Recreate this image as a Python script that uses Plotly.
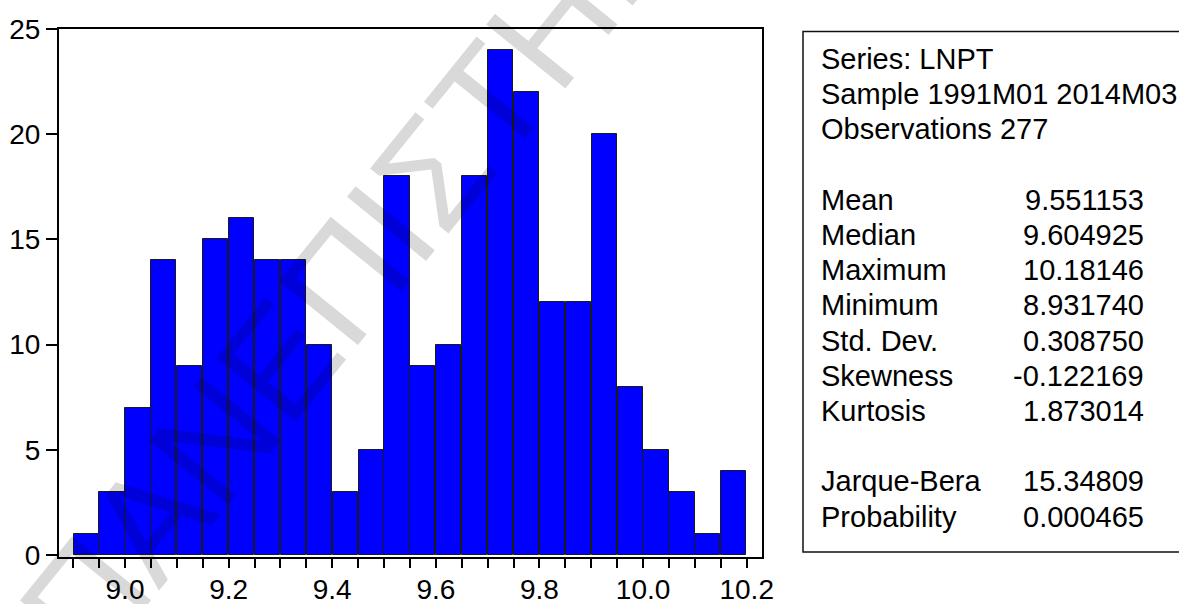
import numpy as np
import plotly.graph_objects as go

# ---- data ----
bin_start = 8.90
bin_width = 0.05
counts = [1, 3, 7, 14, 9, 15, 16, 14, 14, 10, 3, 5, 18, 9, 10, 18, 24, 22, 12, 12, 20, 8, 5, 3, 1, 4]
x_tick_vals = [9.0, 9.2, 9.4, 9.6, 9.8, 10.0, 10.2]
x_tick_text = ["9.0", "9.2", "9.4", "9.6", "9.8", "10.0", "10.2"]
y_tick_vals = [0, 5, 10, 15, 20, 25]

header_lines = ["Series: LNPT", "Sample 1991M01 2014M03", "Observations 277"]
stat_labels = ["Mean", "Median", "Maximum", "Minimum", "Std. Dev.", "Skewness", "Kurtosis"]
stat_values = ["9.551153", "9.604925", "10.18146", "8.931740", "0.308750", "-0.122169", "1.873014"]
test_labels = ["Jarque-Bera", "Probability"]
test_values = ["15.34809", "0.000465"]
watermark = "ΠΑΝΕΠΙΣΤΗΜΙΟ"

# ---- layout geometry (pixels) ----
W, H = 1179, 604
L, R, T, B = 59, 762, 29, 557
pw, ph = R - L, B - T
def px(x):
    return (x - L) / pw
def py(y):
    return (B - y) / ph

FONT = "Liberation Sans, Arial, Helvetica, sans-serif"
centers = bin_start + bin_width * (np.arange(len(counts)) + 0.5)

fig = go.Figure()
fig.add_trace(go.Bar(
    x=centers, y=counts, width=bin_width * 0.97,
    marker=dict(color="#0000FF", line=dict(color="#1a1a1a", width=1)),
    hoverinfo="x+y", showlegend=False,
))

fig.update_layout(
    width=W, height=H,
    margin=dict(l=L, r=W - R, t=T, b=H - B, pad=0),
    paper_bgcolor="white", plot_bgcolor="white",
    font=dict(family=FONT, size=28, color="black"),
    bargap=0,
    xaxis=dict(
        range=[8.8726, 10.2295], showgrid=False, zeroline=False, automargin=False,
        showline=True, linecolor="black", linewidth=2, mirror=True,
        tickmode="array", tickvals=x_tick_vals, ticktext=x_tick_text,
        ticks="outside", ticklen=9, tickwidth=1.5, tickcolor="black",
        ticklabelstandoff=-3,
        tickfont=dict(family=FONT, size=28, color="black"),
        minor=dict(tick0=bin_start, dtick=bin_width, ticks="outside",
                   ticklen=9, tickwidth=1.5, tickcolor="black", showgrid=False),
    ),
    yaxis=dict(
        range=[-0.1, 25], showgrid=False, zeroline=False, automargin=False,
        showline=True, linecolor="black", linewidth=2, mirror=True,
        tickmode="array", tickvals=y_tick_vals,
        ticks="outside", ticklen=11, tickwidth=1.5, tickcolor="black",
        tickfont=dict(family=FONT, size=28, color="black"),
    ),
)

# stats box
fig.add_shape(type="rect", xref="paper", yref="paper",
              x0=px(803), x1=px(1200), y0=py(552), y1=py(31.5),
              line=dict(color="#111111", width=1.5), fillcolor="rgba(0,0,0,0)")

row0, step = 59, 35.2
label_x, value_x = px(819), px(1146)
def add_text(txt, row, xpos, anchor):
    fig.add_annotation(xref="paper", yref="paper", x=xpos, y=py(row0 + step * row),
                       text=txt, showarrow=False, xanchor=anchor, yanchor="middle",
                       font=dict(family=FONT, size=29, color="black"))

for i, t in enumerate(header_lines):
    add_text(t, i, label_x, "left")
for i, (lab, val) in enumerate(zip(stat_labels, stat_values)):
    add_text(lab, 4 + i, label_x, "left")
    add_text(val, 4 + i, value_x, "right")
for i, (lab, val) in enumerate(zip(test_labels, test_values)):
    add_text(lab, 12 + i, label_x, "left")
    add_text(val, 12 + i, value_x, "right")

# watermark
fig.add_annotation(xref="paper", yref="paper", x=px(406), y=py(203),
                   text=watermark, showarrow=False, textangle=-51,
                   xanchor="center", yanchor="middle",
                   font=dict(family=FONT, size=148, color="rgba(0,0,0,0.15)"))

fig.write_html(
    "out.html",
    config={"displayModeBar": False},
    post_script="document.body.style.margin='0';document.body.style.overflow='hidden';",
)
